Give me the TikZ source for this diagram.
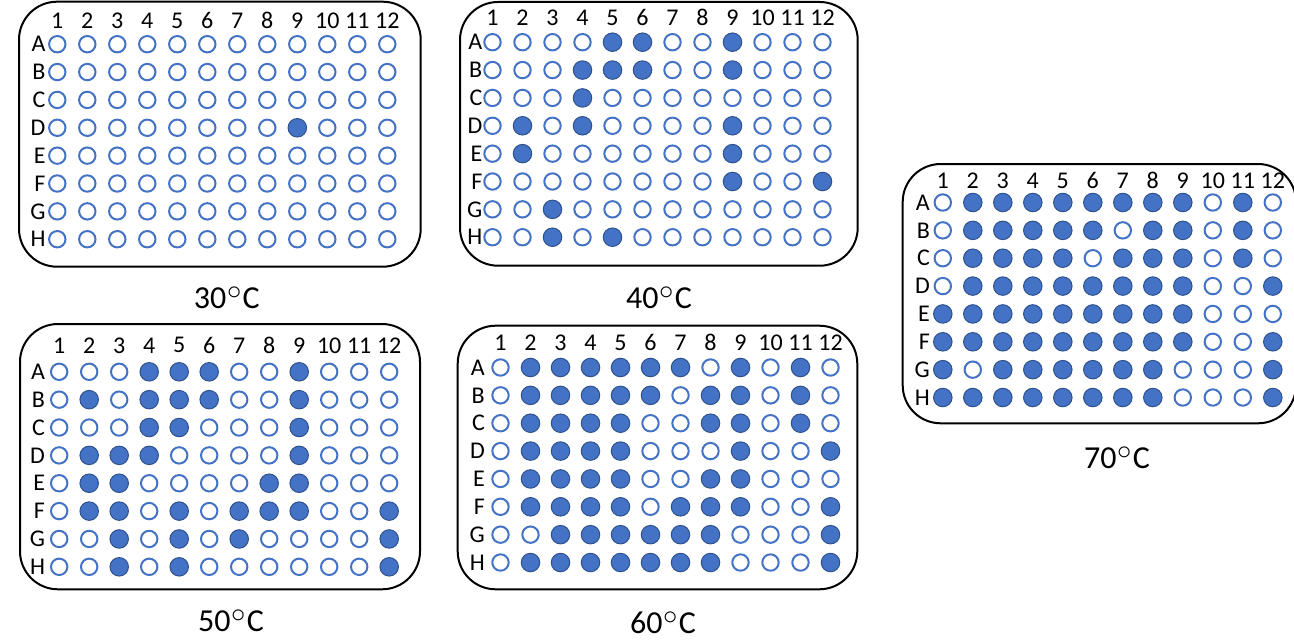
\documentclass[tikz,border=0pt]{standalone}
\usepackage{fontspec}
\setmainfont{Carlito}
\definecolor{wellblue}{HTML}{4472C4}
\definecolor{welldark}{HTML}{2F528F}
\makeatletter
\newcommand\IfFilled[4]{\edef\my@tmp{\noexpand\in@{,#1,}{,#2,}}\my@tmp\ifin@ #3\else #4\fi}
\makeatother
\newcommand\degsym{\kern0.03em\raisebox{0.26em}{\scalebox{1.15}{$\circ$}}\kern0.03em}
\tikzset{
  welle/.style={circle, draw=wellblue, line width=2pt, fill=white, minimum size=16.4pt, inner sep=0pt},
  wellf/.style={circle, draw=welldark, line width=1pt, fill=wellblue, minimum size=18.5pt, inner sep=0pt},
  numlab/.style={font=\fontsize{24}{24}\selectfont, inner sep=0pt},
  rowlab/.style={font=\fontsize{24}{24}\selectfont, inner sep=0pt, anchor=east},
  templab/.style={font=\fontsize{32}{32}\selectfont, inner sep=0pt, anchor=base},
  platebox/.style={draw=black, line width=2pt, rounded corners=38pt}
}
% #1 name, #2 x of column 1, #3 y of row A, #4 label offset, #5 number offset, #6 rows
\newcommand\plate[6]{%
  \foreach \c in {1,...,12}{
    \node[numlab] (#1-n\c) at ({#2+(\c-1)*30},{#3-#5}) {\c};
  }
  \foreach \r/\lst [count=\i] in {#6}{
    \node[rowlab] (#1-l\r) at ({#2-#4},{#3+(\i-1)*27.86}) {\r};
    \foreach \c in {1,...,12}{
      \IfFilled{\c}{\lst}{\def\wellstyle{wellf}}{\def\wellstyle{welle}}
      \node[\wellstyle] (#1-\r\c) at ({#2+(\c-1)*30},{#3+(\i-1)*27.86}) {};
    }
  }
}
\begin{document}
\begin{tikzpicture}[x=1pt,y=-1pt]
\useasboundingbox (0,0) rectangle (1294,642);
% plate boxes
\draw[platebox] (19,1.7) rectangle (420.7,266.7);
\draw[platebox] (460,2) rectangle (857.7,265.7);
\draw[platebox] (20,324) rectangle (420,589.3);
\draw[platebox] (457.7,325.7) rectangle (857.3,589.3);
\draw[platebox] (902.7,164) rectangle (1296,423.3);
% 30 C
\plate{p30}{57.3}{44.2}{11.6}{23.5}{A/{},B/{},C/{},D/{9},E/{},F/{},G/{},H/{}}
% 40 C
\plate{p40}{492.5}{42.2}{10}{24.7}{A/{5,6,9},B/{4,5,6,9},C/{4},D/{2,4,9},E/{2,9},F/{9,12},G/{3},H/{3,5}}
% 50 C
\plate{p50}{59.2}{371.8}{14}{26.5}{A/{4,5,6,9},B/{2,4,5,6,9},C/{4,5,9},D/{2,3,4,9},E/{2,3,8,9},F/{2,3,5,7,8,9,12},G/{3,5,7,12},H/{3,5,12}}
% 60 C
\plate{p60}{500.5}{367.5}{15.5}{25}{A/{2,3,4,5,6,7,9,11},B/{2,3,4,5,6,8,9,11},C/{2,3,4,5,8,9,11},D/{2,3,4,5,9,12},E/{2,3,4,5,8,9},F/{2,3,4,5,7,8,9,12},G/{3,4,5,6,7,8,12},H/{2,3,4,5,6,7,8,12}}
% 70 C
\plate{p70}{942.8}{202.5}{12.8}{21.7}{A/{2,3,4,5,6,7,8,9,11},B/{2,3,4,5,6,8,9,11},C/{2,3,4,5,7,8,9,11},D/{2,3,4,5,6,7,8,9,12},E/{1,2,3,4,5,6,7,8,9},F/{1,2,3,4,5,6,7,8,9,12},G/{1,3,4,5,6,7,8,12},H/{1,2,3,4,5,6,7,8,12}}
% temperature labels
\node[templab] (t30) at (226.7,308) {30\degsym C};
\node[templab] (t40) at (659,308) {40\degsym C};
\node[templab] (t50) at (231,631) {50\degsym C};
\node[templab] (t60) at (663,633) {60\degsym C};
\node[templab] (t70) at (1117,468) {70\degsym C};
\end{tikzpicture}
\end{document}
